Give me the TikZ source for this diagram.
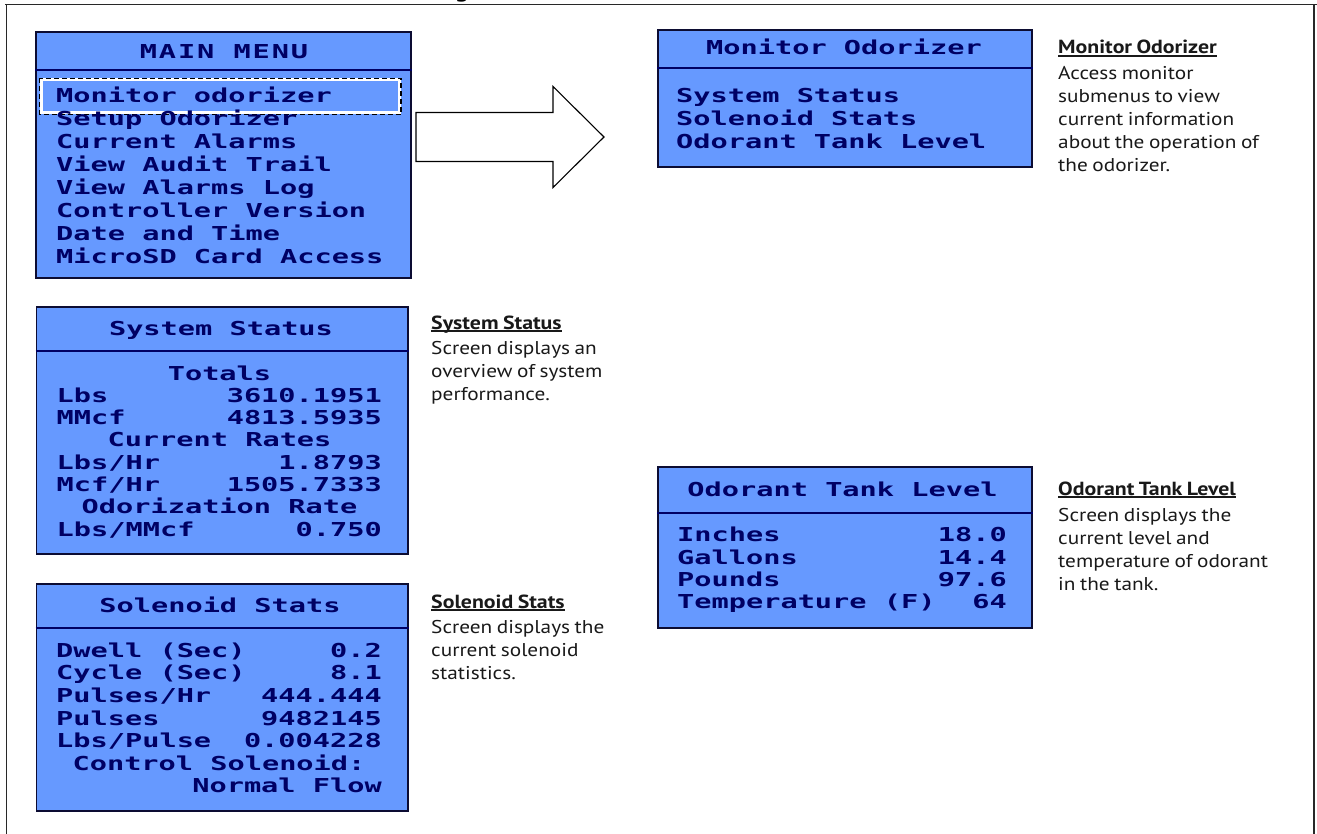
\documentclass[tikz,border=0pt]{standalone}
\usepackage{fontspec}
\setmainfont{PT Sans}[FakeStretch=1.15, WordSpace=0.8]
\newfontfamily\lcd{DejaVu Sans Mono Bold}[FakeStretch=1.49]
\usetikzlibrary{calc}

\definecolor{lcdblue}{RGB}{102,153,255}
\definecolor{lcdink}{RGB}{0,0,100}
\definecolor{boxline}{RGB}{12,12,50}
\definecolor{frameline}{RGB}{40,40,40}
\definecolor{descink}{RGB}{25,25,25}

% underlined heading with the rule just under the baseline
\newcommand\hdul[1]{\setbox0\hbox{#1}\rlap{\rule[-2.6pt]{\wd0}{1.3pt}}\box0}

\tikzset{
  screen/.style={draw=boxline, line width=1.6pt, fill=lcdblue, inner sep=0pt,
                 anchor=north west},
  sepline/.style={draw=lcdink, line width=1.8pt},
  lcdtxt/.style={inner sep=0pt, text=lcdink, font=\lcd\fontsize{19.2}{22}\selectfont},
  desctxt/.style={inner sep=0pt, text=descink, anchor=base west,
                  font=\fontsize{18.5}{22}\selectfont},
  deschead/.style={desctxt, font=\bfseries\fontsize{19}{22}\selectfont},
  frame/.style={draw=frameline, line width=1.3pt},
}

\begin{document}
\begin{tikzpicture}[x=1pt,y=-1pt]
\useasboundingbox (0,0) rectangle (1317,834);

% outer frame, cut at the top of the page
\draw[frame] (5,4.5) -- (1317,4.5);
\draw[frame] (6.5,4.5) -- (6.5,834);
\draw[frame] (1314,4.5) -- (1314,834);
\node[inner sep=0pt, anchor=base, text=black, font=\bfseries\fontsize{22}{22}\selectfont] (gcut) at (462,-2.2) {g};

% ---------------- MAIN MENU ----------------
\node[screen, minimum width=375pt, minimum height=246pt] (mm) at (35,31) {};
\draw[sepline] ($(mm.north west)+(0,39)$) -- ($(mm.north east)+(0,39)$);
\node[lcdtxt, anchor=base] (mmt) at (224,58.5) {\addfontfeature{LetterSpace=10}MAIN MENU};
% highlighted entry
\node[draw=white, line width=3pt, inner sep=0pt, anchor=north west,
      minimum width=358.5pt, minimum height=33pt] (sel) at (39.5,78.5) {};
\draw[black, line width=1.5pt, dash pattern=on 5pt off 3pt]
  (sel.north west) rectangle (sel.south east);
\foreach \t [count=\i from 0] in {Monitor odorizer, Setup Odorizer, Current Alarms,
    View Audit Trail, View Alarms Log, Controller Version, Date and Time,
    MicroSD Card Access}
  \node[lcdtxt, anchor=base west] (mmi\i) at (56,102.7+23*\i) {\t};

% ---------------- block arrow ----------------
\coordinate (ar) at (416,137);
\draw[black, line width=1.1pt, fill=white, line join=miter]
  ($(ar)+(0,-24.5)$) -- ($(ar)+(137,-24.5)$) -- ($(ar)+(137,-50.5)$) --
  ($(ar)+(188,0)$) -- ($(ar)+(137,50.5)$) -- ($(ar)+(137,24.5)$) --
  ($(ar)+(0,24.5)$) -- cycle;

% ---------------- Monitor Odorizer ----------------
\node[screen, minimum width=374pt, minimum height=137pt] (mon) at (657,29) {};
\draw[sepline] ($(mon.north west)+(0,38.7)$) -- ($(mon.north east)+(0,38.7)$);
\node[lcdtxt, anchor=base] (mont) at (844,55) {Monitor Odorizer};
\foreach \t [count=\i from 0] in {System Status, Solenoid Stats, Odorant Tank Level}
  \node[lcdtxt, anchor=base west] (moni\i) at (676,102.3+23*\i) {\t};

\node[deschead] (d1h) at (1058,54) {\hdul{Monitor Odorizer}};
\foreach \t [count=\i from 0] in {Access monitor, submenus to view,
    current information, about the operation of, the odorizer.}
  \node[desctxt] (d1l\i) at (1058,79.5+23*\i) {\t};

% ---------------- System Status ----------------
\node[screen, minimum width=371.5pt, minimum height=247pt] (ss) at (35.5,306) {};
\draw[sepline] ($(ss.north west)+(0,44.7)$) -- ($(ss.north east)+(0,44.7)$);
\node[lcdtxt, anchor=base] (sst) at (221,335) {System Status};
\node[lcdtxt, anchor=base] (ssc0) at (219.5,380) {Totals};
\node[lcdtxt, anchor=base west] (ssl1) at (56.5,402.3) {Lbs};
\node[lcdtxt, anchor=base east] (ssv1) at (382,402.3) {3610.1951};
\node[lcdtxt, anchor=base west] (ssl2) at (56.5,424.6) {MMcf};
\node[lcdtxt, anchor=base east] (ssv2) at (382,424.6) {4813.5935};
\node[lcdtxt, anchor=base] (ssc3) at (219.5,446.9) {Current Rates};
\node[lcdtxt, anchor=base west] (ssl4) at (56.5,469.2) {Lbs/Hr};
\node[lcdtxt, anchor=base east] (ssv4) at (382,469.2) {1.8793};
\node[lcdtxt, anchor=base west] (ssl5) at (56.5,491.5) {Mcf/Hr};
\node[lcdtxt, anchor=base east] (ssv5) at (382,491.5) {1505.7333};
\node[lcdtxt, anchor=base] (ssc6) at (219.5,513.8) {Odorization Rate};
\node[lcdtxt, anchor=base west] (ssl7) at (56.5,536.1) {Lbs/MMcf};
\node[lcdtxt, anchor=base east] (ssv7) at (382,536.1) {0.750};

\node[deschead] (d2h) at (431,329) {\hdul{System Status}};
\foreach \t [count=\i from 0] in {Screen displays an, overview of system, performance.}
  \node[desctxt] (d2l\i) at (431,354.5+23.2*\i) {\t};

% ---------------- Solenoid Stats ----------------
\node[screen, minimum width=371.5pt, minimum height=226.7pt] (sol) at (35.5,583.3) {};
\draw[sepline] ($(sol.north west)+(0,45)$) -- ($(sol.north east)+(0,45)$);
\node[lcdtxt, anchor=base] (solt) at (220,612.5) {Solenoid Stats};
\node[lcdtxt, anchor=base west] (soll0) at (56,657.3) {Dwell (Sec)};
\node[lcdtxt, anchor=base east] (solv0) at (382,657.3) {0.2};
\node[lcdtxt, anchor=base west] (soll1) at (56,679.9) {Cycle (Sec)};
\node[lcdtxt, anchor=base east] (solv1) at (382,679.9) {8.1};
\node[lcdtxt, anchor=base west] (soll2) at (56,702.5) {Pulses/Hr};
\node[lcdtxt, anchor=base east] (solv2) at (382,702.5) {444.444};
\node[lcdtxt, anchor=base west] (soll3) at (56,725.1) {Pulses};
\node[lcdtxt, anchor=base east] (solv3) at (382,725.1) {9482145};
\node[lcdtxt, anchor=base west] (soll4) at (56,747.7) {Lbs/Pulse};
\node[lcdtxt, anchor=base east] (solv4) at (382,747.7) {0.004228};
\node[lcdtxt, anchor=base] (solc5) at (219,770.3) {Control Solenoid:};
\node[lcdtxt, anchor=base east] (solv6) at (382,792.9) {Normal Flow};

\node[deschead] (d3h) at (431,608) {\hdul{Solenoid Stats}};
\foreach \t [count=\i from 0] in {Screen displays the, current solenoid, statistics.}
  \node[desctxt] (d3l\i) at (431,633+23.2*\i) {\t};

% ---------------- Odorant Tank Level ----------------
\node[screen, minimum width=374pt, minimum height=161pt] (otl) at (657,466) {};
\draw[sepline] ($(otl.north west)+(0,46.7)$) -- ($(otl.north east)+(0,46.7)$);
\node[lcdtxt, anchor=base] (otlt) at (842.5,496.5) {Odorant Tank Level};
\node[lcdtxt, anchor=base west] (otll0) at (677,541.7) {Inches};
\node[lcdtxt, anchor=base east] (otlv0) at (1007,541.7) {18.0};
\node[lcdtxt, anchor=base west] (otll1) at (677,564) {Gallons};
\node[lcdtxt, anchor=base east] (otlv1) at (1007,564) {14.4};
\node[lcdtxt, anchor=base west] (otll2) at (677,586.3) {Pounds};
\node[lcdtxt, anchor=base east] (otlv2) at (1007,586.3) {97.6};
\node[lcdtxt, anchor=base west] (otll3) at (677,608.6) {Temperature (F)};
\node[lcdtxt, anchor=base east] (otlv3) at (1007,608.6) {64};

\node[deschead] (d4h) at (1058,495) {\hdul{Odorant Tank Level}};
\foreach \t [count=\i from 0] in {Screen displays the, current level and,
    temperature of odorant, in the tank.}
  \node[desctxt] (d4l\i) at (1058,521+23*\i) {\t};

\end{tikzpicture}
\end{document}
